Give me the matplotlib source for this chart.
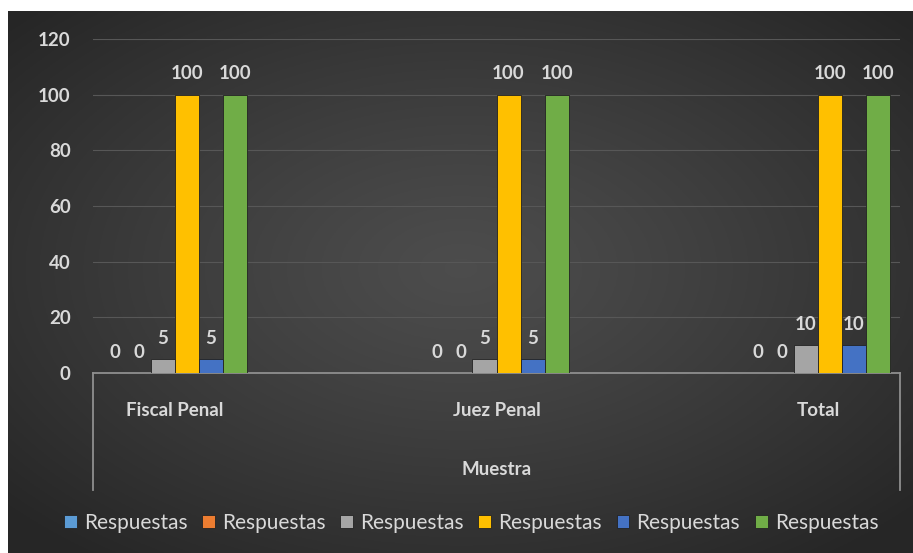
import numpy as np
import matplotlib.pyplot as plt
from matplotlib import transforms

plt.rcParams['font.family'] = ['Lato', 'DejaVu Sans']

# Data
categories = ["Fiscal Penal", "Juez Penal", "Total"]
series_names = ["Respuestas"] * 6
s1 = [0, 0, 0]
s2 = [0, 0, 0]
s3 = [5, 5, 10]
s4 = [100, 100, 100]
s5 = [5, 5, 10]
s6 = [100, 100, 100]
series = [s1, s2, s3, s4, s5, s6]
colors = ["#5B9BD5", "#ED7D31", "#A5A5A5", "#FFC000", "#4472C4", "#70AD47"]
yticks = [0, 20, 40, 60, 80, 100, 120]

text_col = "#d9d9d9"

fig = plt.figure(figsize=(9.13, 5.53), dpi=100)
fig.patch.set_facecolor("white")

# dark radial background
bg = fig.add_axes([8 / 913, 0, 905 / 913, 542 / 553])
yy, xx = np.mgrid[-1:1:300j, -1:1:450j]
r = np.clip(np.sqrt(xx ** 2 + (yy + 0.05) ** 2) / 1.35, 0, 1)
v = 0.30 - 0.15 * r ** 1.2
bg.imshow(np.dstack([v, v, v]), aspect="auto", extent=[0, 1, 0, 1])
bg.axis("off")

ax = fig.add_axes([93 / 913, 180 / 553, 807 / 913, 334 / 553])
ax.patch.set_alpha(0)
ax.set_xlim(-0.255, 2.255)
ax.set_ylim(0, 120)

x = np.arange(len(categories))
w = 0.0747
bars = []
for i, (vals, c) in enumerate(zip(series, colors)):
    b = ax.bar(x + (i - 2.5) * w, vals, w, color=c, edgecolor="#222222",
               linewidth=0.6, label=series_names[i], zorder=3)
    bars.append(b)
    ax.bar_label(b, padding=9, color=text_col, fontsize=13.5,
                 fontweight="bold", zorder=5)

# axes styling
ax.set_yticks(yticks)
ax.set_yticklabels([str(t) for t in yticks], color=text_col, fontsize=13.5,
                   fontweight="bold")
ax.tick_params(axis="y", length=0, pad=16)
ax.set_xticks([])
ax.yaxis.grid(True, color="#575757", linewidth=0.8)
ax.set_axisbelow(True)
for s in ["top", "right", "left"]:
    ax.spines[s].set_visible(False)
ax.spines["bottom"].set_color("#8f8f8f")
ax.spines["bottom"].set_linewidth(1.3)

# multi-level category box
for xa in (0, 1):
    ax.plot([xa, xa], [0, -0.35], transform=ax.transAxes, clip_on=False,
            color="#8f8f8f", linewidth=1.3)

trans = transforms.blended_transform_factory(ax.transData, ax.transAxes)
for xi, cat in zip(x, categories):
    ax.text(xi, -0.111, cat, transform=trans, ha="center", va="center",
            color=text_col, fontsize=13.5, fontweight="bold")
ax.text(0.5, -0.29, "Muestra", transform=ax.transAxes, ha="center",
        va="center", color=text_col, fontsize=13.5, fontweight="bold")

fig.legend(handles=bars, labels=series_names, ncol=6, loc="center",
           bbox_to_anchor=(471 / 913, 30 / 553), frameon=False, fontsize=15,
           labelcolor=text_col, handlelength=0.62, handleheight=0.62,
           handletextpad=0.34, columnspacing=0.7)

plt.savefig("out.png", dpi=100)
